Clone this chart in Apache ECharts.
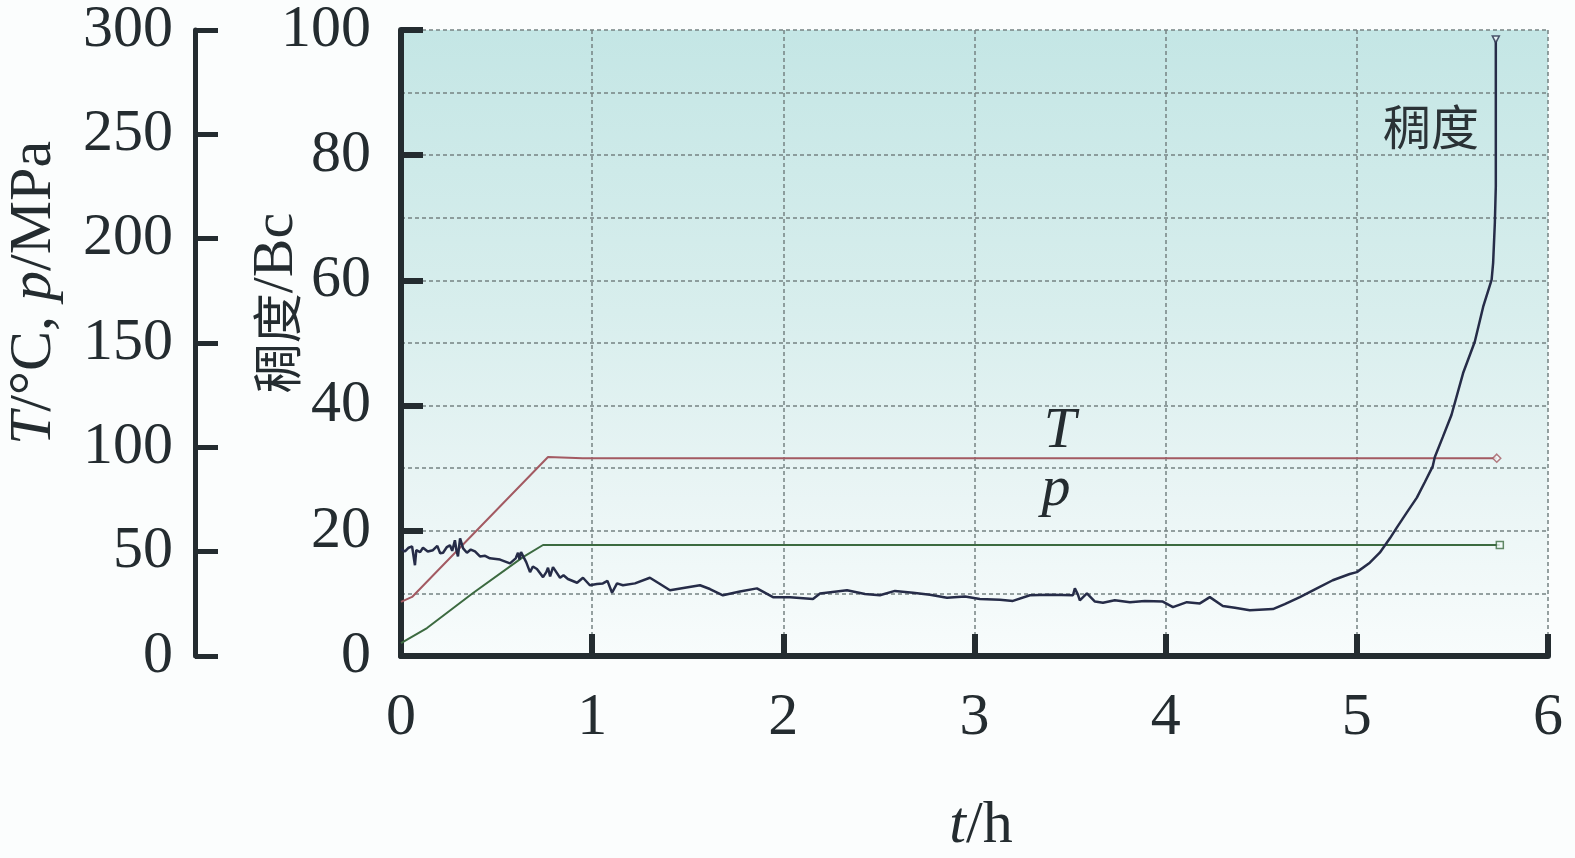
<!DOCTYPE html>
<html>
<head>
<meta charset="utf-8">
<script src="https://cdn.jsdelivr.net/npm/echarts@6/dist/echarts.min.js"></script>
<style>
html,body{margin:0;padding:0;background:#fbfdfd;}
#c{width:1575px;height:858px;}
</style>
</head>
<body>
<div id="c"></div>
<script>
// x ticks (h)
var xTicks = [0, 1, 2, 3, 4, 5, 6];
// consistency (Bc) vs time (h)
var consistency = [
[0,17.1],[0.021,16.7],[0.040,17.3],[0.058,17.5],[0.073,14.5],[0.080,16.9],[0.089,17.1],[0.100,16.6],
[0.115,17.3],[0.140,16.7],[0.167,16.9],[0.190,17.6],[0.205,16.4],[0.220,16.5],[0.240,17.4],
[0.256,17.7],[0.268,16.8],[0.282,18.5],[0.290,16.9],[0.298,15.9],[0.309,18.8],[0.325,17.2],
[0.345,16.5],[0.365,17.0],[0.387,16.7],[0.413,15.9],[0.440,16.0],[0.465,15.6],[0.518,15.4],
[0.570,14.8],[0.600,15.6],[0.612,16.5],[0.620,15.4],[0.628,16.6],[0.638,16.3],[0.655,15.0],
[0.675,13.4],[0.690,14.3],[0.711,13.9],[0.743,12.6],[0.760,13.4],[0.769,14.1],[0.780,12.7],
[0.795,14.2],[0.832,12.5],[0.850,12.9],[0.873,12.3],[0.921,11.7],[0.952,12.5],[0.988,11.3],
[1.025,11.5],[1.056,11.6],[1.080,12.0],[1.104,10.1],[1.130,11.6],[1.161,11.3],[1.224,11.6],
[1.302,12.5],[1.355,11.5],[1.407,10.5],[1.485,10.9],[1.564,11.3],[1.616,10.7],[1.684,9.7],
[1.773,10.3],[1.862,10.8],[1.946,9.4],[2.035,9.4],[2.155,9.1],[2.192,10.0],[2.333,10.5],
[2.427,9.9],[2.505,9.7],[2.584,10.4],[2.678,10.1],[2.767,9.8],[2.856,9.3],[2.950,9.5],
[3.028,9.1],[3.133,9.0],[3.201,8.8],[3.290,9.7],[3.394,9.8],[3.515,9.7],[3.525,10.8],
[3.541,9.8],[3.551,8.9],[3.588,10.0],[3.630,8.7],[3.672,8.5],[3.734,8.9],[3.813,8.6],
[3.891,8.8],[3.985,8.7],[4.038,7.8],[4.111,8.6],[4.179,8.4],[4.231,9.4],[4.299,8.0],
[4.362,7.7],[4.440,7.3],[4.561,7.5],[4.623,8.3],[4.702,9.4],[4.791,10.8],[4.874,12.1],
[4.963,13.1],[5.000,13.4],[5.068,14.9],[5.120,16.5],[5.173,18.8],[5.209,20.5],[5.261,22.9],
[5.314,25.3],[5.356,27.8],[5.397,30.3],[5.408,31.8],[5.450,35.0],[5.495,38.5],[5.556,45.2],
[5.617,50.2],[5.661,55.8],[5.705,60.1],[5.713,62.8],[5.722,69.2],[5.727,75],[5.727,98.5]
];
// temperature (°C) vs time (h)
var temperature = [[0,25.9],[0.058,28.3],[0.769,95.4],[0.95,94.8],[5.732,94.8]];
// pressure (MPa) vs time (h)
var pressure = [[0,6.2],[0.136,13.4],[0.377,30.2],[0.638,47.4],[0.743,53.2],[5.748,53.2]];

var ink = '#242c30';
var serif = '"Liberation Serif","DejaVu Serif",serif';
var chart = echarts.init(document.getElementById('c'));
function last(a){ return a[a.length-1]; }

chart.setOption({
  backgroundColor: '#fbfdfd',
  animation: false,
  grid: {
    left: 401, right: 27, top: 30, bottom: 202,
    show: true, borderWidth: 0,
    backgroundColor: new echarts.graphic.LinearGradient(0,0,0,1,[
      {offset:0,color:'#c4e6e5'},{offset:0.45,color:'#d8eeed'},
      {offset:0.75,color:'#eaf5f5'},{offset:1,color:'#f8fcfc'}])
  },
  xAxis: {
    type: 'value', min: xTicks[0], max: xTicks[xTicks.length-1], interval: 1,
    axisLine: {show:true, onZero:false, lineStyle:{color:ink, width:6}},
    axisTick: {show:true, inside:true, length:22, lineStyle:{color:ink, width:6}},
    axisLabel: {color: ink, fontFamily: serif, fontSize: 60, margin: 32},
    splitLine: {show:true, lineStyle:{color:'#768282', width:1.5, type:[4,3]}}
  },
  yAxis: [{
    type: 'value', min: 0, max: 100, interval: 20, position: 'left',
    axisLine: {show:true, lineStyle:{color:ink, width:6}},
    axisTick: {show:true, inside:true, length:22, lineStyle:{color:ink, width:6}},
    axisLabel: {color: ink, fontFamily: serif, fontSize: 60, margin: 30},
    splitLine: {show:true, lineStyle:{color:'#768282', width:1.5, type:[4,3]}},
    minorTick: {show:false, splitNumber:2},
    minorSplitLine: {show:true, lineStyle:{color:'#768282', width:1.5, type:[4,3]}}
  },{
    type: 'value', min: 0, max: 300, interval: 50, position: 'left', offset: 206,
    axisLine: {show:true, lineStyle:{color:ink, width:5}},
    axisTick: {show:true, inside:true, length:23, lineStyle:{color:ink, width:5}},
    axisLabel: {color: ink, fontFamily: serif, fontSize: 60, margin: 22},
    splitLine: {show:false}
  }],
  series: [{
    name: '稠度', type: 'line', yAxisIndex: 0, data: consistency,
    showSymbol: false, lineStyle: {color:'#262c48', width:2.5}, z: 5
  },{
    name: 'T', type: 'line', yAxisIndex: 1, data: temperature,
    showSymbol: false, lineStyle: {color:'#a35a62', width:2}, z: 4
  },{
    name: 'p', type: 'line', yAxisIndex: 1, data: pressure,
    showSymbol: false, lineStyle: {color:'#3c6a40', width:2}, z: 4
  },{
    type: 'scatter', yAxisIndex: 0, data: [last(consistency)],
    symbol: 'triangle', symbolRotate: 180, symbolSize: 7,
    itemStyle: {color:'#eef8f8', borderColor:'#262c48', borderWidth:1.5}, z: 6
  },{
    type: 'scatter', yAxisIndex: 1, data: [last(temperature)],
    symbol: 'diamond', symbolSize: 8,
    itemStyle: {color:'#f4fafa', borderColor:'#a35a62', borderWidth:1.5}, z: 6
  },{
    type: 'scatter', yAxisIndex: 1, data: [last(pressure)],
    symbol: 'rect', symbolSize: 7,
    itemStyle: {color:'#f4fafa', borderColor:'#3c6a40', borderWidth:1.5}, z: 6
  }],
  graphic: [{
    type: 'text', x: 981, y: 826,
    style: {
      x: 0, y: 0, align: 'center', verticalAlign: 'middle',
      text: '{i|t}{n|/h}', fill: ink,
      rich: {i: {fontStyle:'italic', fontFamily: serif, fontSize: 60, fill: ink},
             n: {fontFamily: serif, fontSize: 60, fill: ink}}
    }
  },{
    type: 'text', x: 277, y: 303, rotation: Math.PI/2,
    style: {
      x: 0, y: 0, align: 'center', verticalAlign: 'middle',
      text: '{c|稠度}{n|/Bc}', fill: ink,
      rich: {c: {fontFamily: '"Noto Sans CJK SC",sans-serif', fontSize: 50, fill: ink},
             n: {fontFamily: serif, fontSize: 58, fill: ink}}
    }
  },{
    type: 'text', x: 34, y: 293, rotation: Math.PI/2,
    style: {
      x: 0, y: 0, align: 'center', verticalAlign: 'middle',
      text: '{i|T}{n|/°C, }{i|p}{n|/MPa}', fill: ink,
      rich: {i: {fontStyle:'italic', fontFamily: serif, fontSize: 60, fill: ink},
             n: {fontFamily: serif, fontSize: 60, fill: ink}}
    }
  },{
    type: 'text', x: 1060, y: 432,
    style: {x:0, y:0, align:'center', verticalAlign:'middle', text:'T', fill: ink,
      font: 'italic 58px ' + serif}
  },{
    type: 'text', x: 1056, y: 490,
    style: {x:0, y:0, align:'center', verticalAlign:'middle', text:'p', fill: ink,
      font: 'italic 58px ' + serif}
  },{
    type: 'text', x: 1431, y: 127,
    style: {x:0, y:0, align:'center', verticalAlign:'middle', text:'稠度', fill: '#2a3236',
      font: '48px "Noto Sans CJK SC",sans-serif'}
  }]
});
</script>
</body>
</html>
